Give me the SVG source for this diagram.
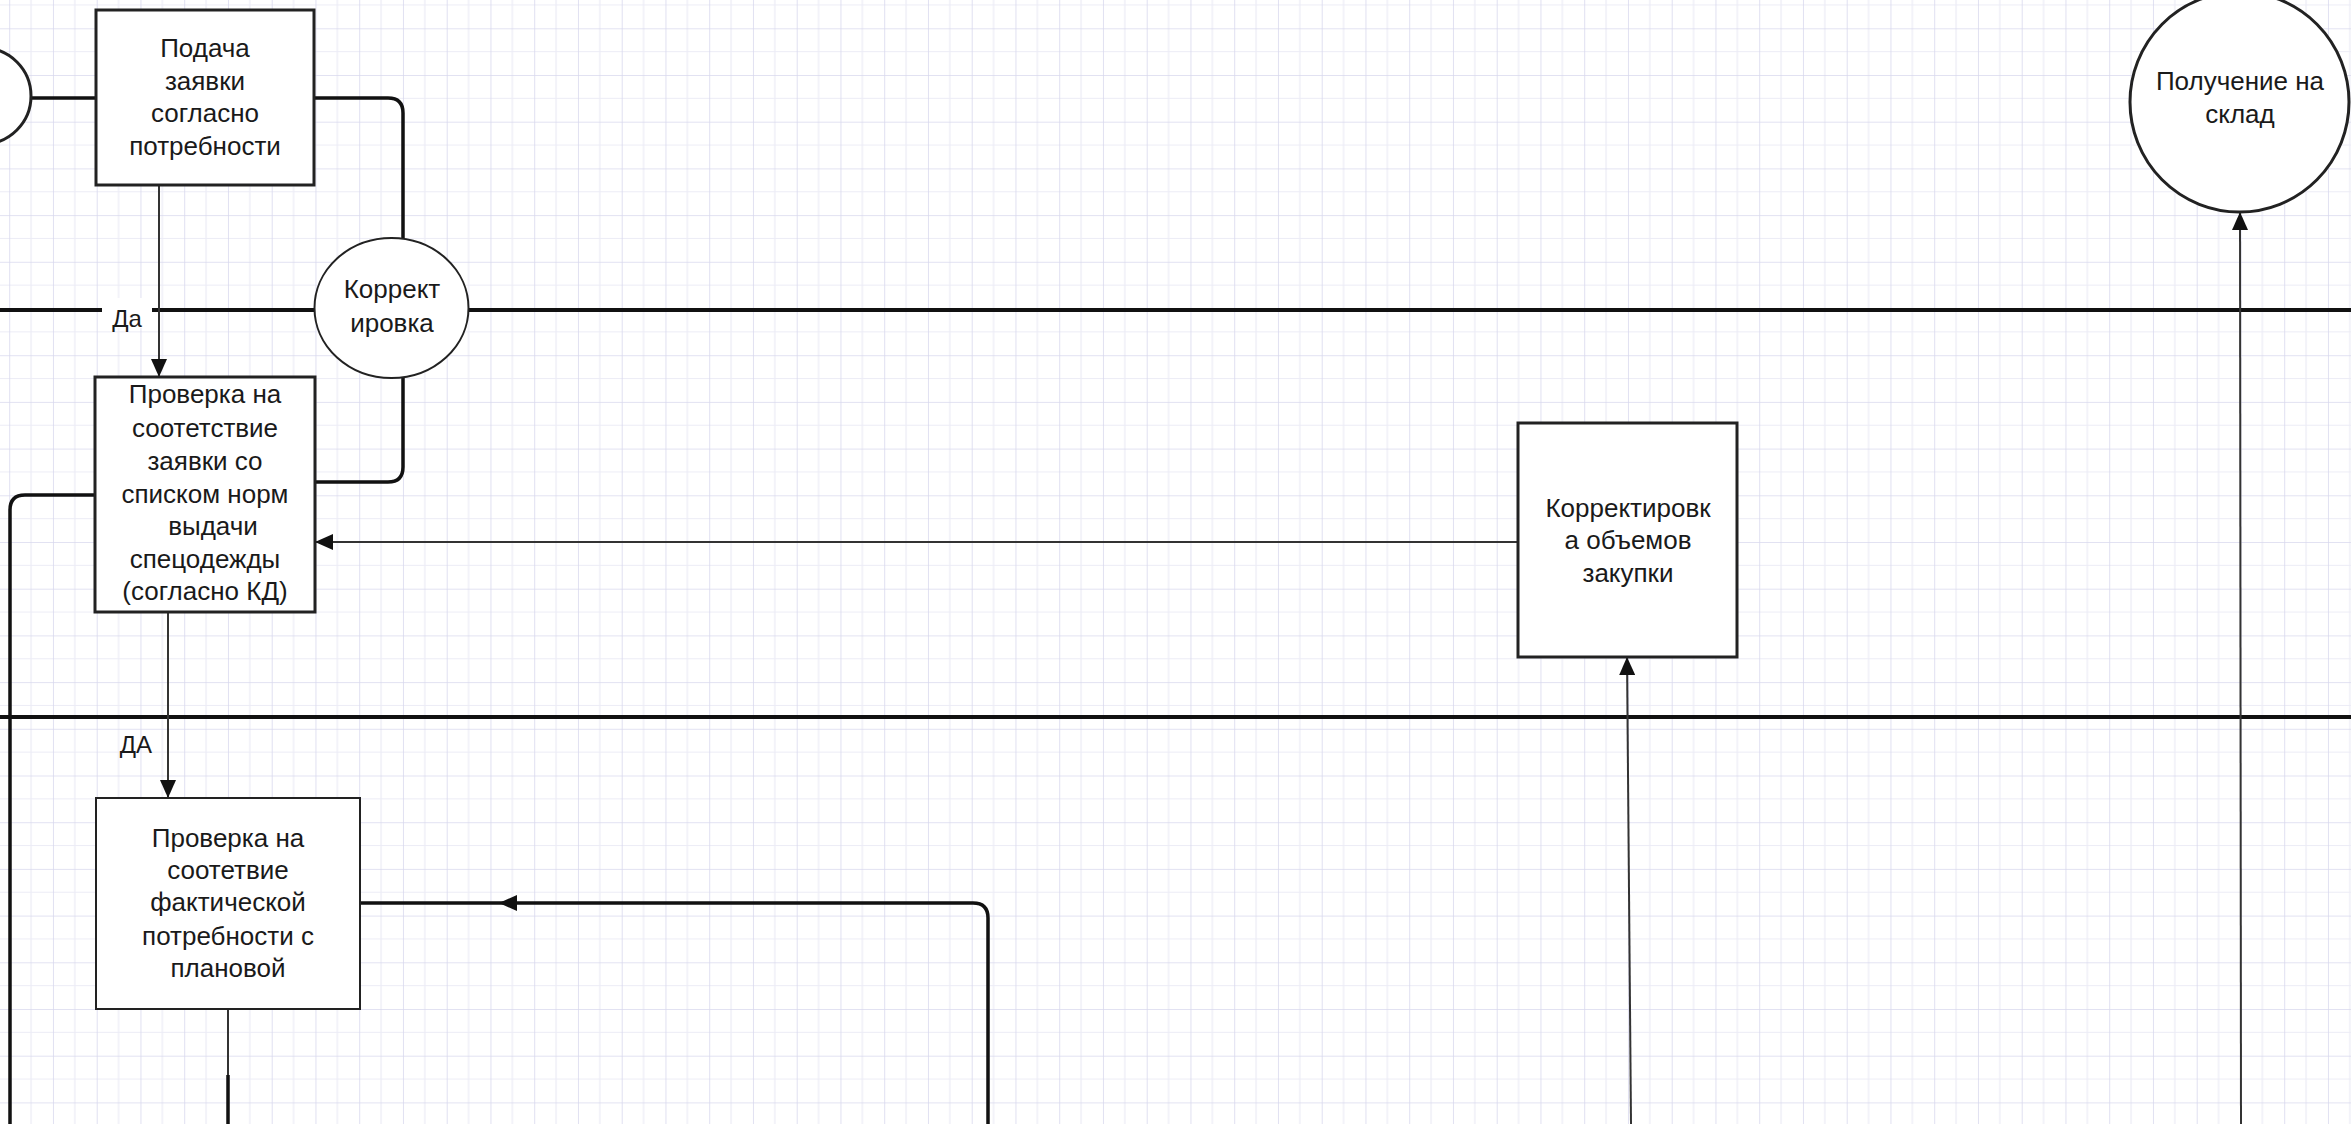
<svg xmlns="http://www.w3.org/2000/svg" width="2351" height="1124" viewBox="0 0 2351 1124">
  <defs>
    <pattern id="grid" patternUnits="userSpaceOnUse" x="9.2" y="28.3" width="43.75" height="46.7">
      <rect width="43.75" height="46.7" fill="#ffffff"/>
      <path d="M21.875,0 V46.7 M0,23.35 H43.75" stroke="#ececf6" stroke-width="1.2" fill="none"/>
      <path d="M0,0 V46.7 M0,0 H43.75" stroke="#d9d9ee" stroke-width="1.6" fill="none"/>
    </pattern>
    <marker id="arrow" markerUnits="userSpaceOnUse" markerWidth="18" markerHeight="16" refX="18" refY="8" orient="auto">
      <path d="M0,0 L18,8 L0,16 z" fill="#111"/>
    </marker>
    <style>
      .box { fill: #ffffff; stroke: #222; stroke-width: 3; }
      .thin { fill: #ffffff; stroke: #222; stroke-width: 2; }
      .lane { stroke: #111; stroke-width: 4; fill: none; }
      .thick { stroke: #111; stroke-width: 3.5; fill: none; }
      .conn { stroke: #333; stroke-width: 2; fill: none; }
      text { font-family: "Liberation Sans", Arial, sans-serif; font-size: 26px; fill: #1a1a1a; text-anchor: middle; }
      .lbl { font-size: 24px; }
    </style>
  </defs>

  <rect width="2351" height="1124" fill="url(#grid)"/>

  <g id="lanes">
    <path class="lane" d="M0,310 H2351"/>
    <path class="lane" d="M0,717 H2351"/>
  </g>

  <g id="connectors">
    <path class="thick" d="M31,98 H96"/>
    <path class="thick" d="M314,98 H388 Q403,98 403,113 V238"/>
    <path class="thick" d="M403,378 V467 Q403,482 388,482 H315"/>
    <path class="conn" d="M159,185 V377" marker-end="url(#arrow)"/>
    <path class="thick" d="M95,495 H25 Q10,495 10,510 V1124"/>
    <path class="conn" d="M1518,542 H315" marker-end="url(#arrow)"/>
    <path class="conn" d="M168,612 V798" marker-end="url(#arrow)"/>
    <path class="thick" d="M988,1124 V918 Q988,903 973,903 H499" marker-end="url(#arrow)"/>
    <path class="thick" d="M499,903 H360"/>
    <path class="conn" d="M228,1009 V1075"/>
    <path class="thick" d="M228,1075 V1124"/>
    <path class="conn" d="M1631,1124 L1627,657" marker-end="url(#arrow)"/>
    <path class="conn" d="M2241,1124 L2240,212" marker-end="url(#arrow)"/>
    <g id="label-da1">
      <rect x="102" y="298" width="50" height="30" fill="#ffffff"/>
      <text class="lbl" x="127" y="327">Да</text>
    </g>
    <g id="label-da2">
      <text class="lbl" x="136" y="753">ДА</text>
    </g>
  </g>

  <g id="node-start">
    <circle class="box" cx="-17" cy="96" r="48"/>
  </g>

  <g id="node-podacha">
    <rect class="box" x="96" y="10" width="218" height="175"/>
    <text x="205" y="57">Подача</text>
    <text x="205" y="90">заявки</text>
    <text x="205" y="122">согласно</text>
    <text x="205" y="155">потребности</text>
  </g>

  <g id="node-korrekt">
    <ellipse class="thin" cx="391.5" cy="308" rx="77" ry="70"/>
    <text x="392" y="298">Коррект</text>
    <text x="392" y="332">ировка</text>
  </g>

  <g id="node-proverka1">
    <rect class="box" x="95" y="377" width="220" height="235"/>
    <text x="205" y="403">Проверка на</text>
    <text x="205" y="437">соотетствие</text>
    <text x="205" y="470">заявки со</text>
    <text x="205" y="503">списком норм</text>
    <text x="213" y="535">выдачи</text>
    <text x="205" y="568">спецодежды</text>
    <text x="205" y="600">(согласно КД)</text>
  </g>

  <g id="node-proverka2">
    <rect class="thin" x="96" y="798" width="264" height="211"/>
    <text x="228" y="847">Проверка на</text>
    <text x="228" y="879">соотетвие</text>
    <text x="228" y="911">фактической</text>
    <text x="228" y="945">потребности с</text>
    <text x="228" y="977">плановой</text>
  </g>

  <g id="node-korrekt-obem">
    <rect class="box" x="1518" y="423" width="219" height="234"/>
    <text x="1628" y="517">Корректировк</text>
    <text x="1628" y="549">а объемов</text>
    <text x="1628" y="582">закупки</text>
  </g>

  <g id="node-sklad">
    <ellipse class="box" cx="2239.5" cy="102" rx="109.5" ry="110"/>
    <text x="2240" y="90">Получение на</text>
    <text x="2240" y="123">склад</text>
  </g>
</svg>
